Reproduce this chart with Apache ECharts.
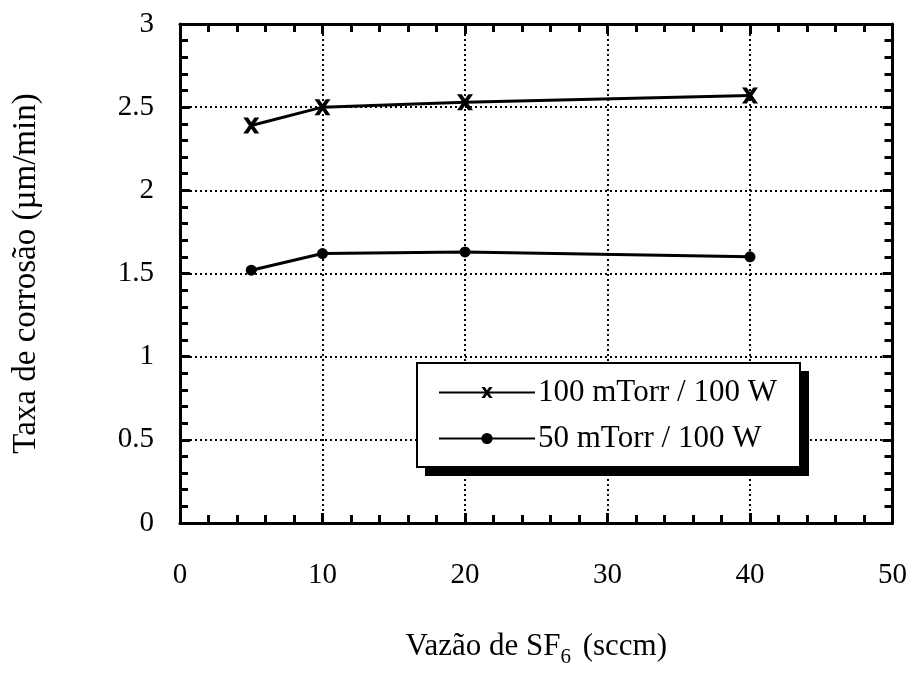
<!DOCTYPE html>
<html><head><meta charset="utf-8">
<script src="https://cdn.jsdelivr.net/npm/echarts@6/dist/echarts.min.js"></script>
<style>html,body{margin:0;padding:0;background:#fff}#c{width:910px;height:673px}</style>
</head><body><div id="c"></div>
<script>
const xValues = [5, 10, 20, 40];
const series100 = [2.39, 2.50, 2.53, 2.57];
const series50 = [1.52, 1.62, 1.63, 1.60];
const seriesNames = ['100 mTorr / 100 W', '50 mTorr / 100 W'];
const xName = 'Vazão de SF';
const yName = 'Taxa de corrosão (µm/min)';

const FONT = '"Liberation Serif", "DejaVu Serif", serif';
const crossPath = 'path://M0,0 L3,0 L5,3 L7,0 L10,0 L6.5,5 L10,10 L7,10 L5,7 L3,10 L0,10 L3.5,5 Z';
const chart = echarts.init(document.getElementById('c'), null, {renderer: 'canvas'});

function axisLine() { return {show: true, onZero: false, lineStyle: {color: '#000', width: 3}}; }
function tick() { return {show: true, inside: true, length: 10, lineStyle: {color: '#000', width: 3}}; }
function minor() { return {show: true, splitNumber: 5, length: 8, lineStyle: {color: '#000', width: 3}}; }
function grid() { return {show: true, lineStyle: {color: '#000', width: 2, type: [2, 3]}}; }

function pairs(ys) { return xValues.map((x, i) => [x, ys[i]]); }

chart.setOption({
  animation: false,
  backgroundColor: '#fff',
  grid: {left: 180, right: 15, top: 24, bottom: 140},
  graphic: [
    {type: 'rect', z: 5, shape: {x: 425, y: 371, width: 384, height: 105}, style: {fill: '#000'}},
    {type: 'rect', z: 6, shape: {x: 417, y: 363, width: 383, height: 104}, style: {fill: '#fff', stroke: '#000', lineWidth: 2}}
  ],
  legend: {
    z: 10,
    data: seriesNames,
    orient: 'vertical',
    left: 438, top: 377,
    padding: 0,
    itemGap: 15,
    itemWidth: 96, itemHeight: 14,
    textStyle: {fontFamily: FONT, fontSize: 31, color: '#000', padding: [0, 0, 0, -2]}
  },
  xAxis: [{
    type: 'value', min: 0, max: 50, interval: 10, position: 'bottom',
    axisLine: axisLine(), axisTick: tick(), minorTick: minor(), splitLine: grid(),
    axisLabel: {fontFamily: FONT, fontSize: 29, color: '#000', margin: 38},
    name: xName + '{sub|6} (sccm)',
    nameLocation: 'middle', nameGap: 102,
    nameTextStyle: {fontFamily: FONT, fontSize: 31, color: '#000',
      rich: {sub: {fontFamily: FONT, fontSize: 21, color: '#000', verticalAlign: 'bottom', padding: [22, 4, 0, 0]}}}
  }, {
    type: 'value', min: 0, max: 50, interval: 10, position: 'top',
    axisLine: axisLine(), axisTick: tick(), minorTick: minor(), splitLine: {show: false},
    axisLabel: {show: false}
  }],
  yAxis: [{
    type: 'value', min: 0, max: 3, interval: 0.5, position: 'left',
    axisLine: axisLine(), axisTick: tick(), minorTick: minor(), splitLine: grid(),
    axisLabel: {fontFamily: FONT, fontSize: 29, color: '#000', margin: 26},
    name: yName, nameLocation: 'middle', nameGap: 137, nameRotate: 90,
    nameTextStyle: {fontFamily: FONT, fontSize: 33, color: '#000'}
  }, {
    type: 'value', min: 0, max: 3, interval: 0.5, position: 'right',
    axisLine: axisLine(), axisTick: tick(), minorTick: minor(), splitLine: {show: false},
    axisLabel: {show: false}
  }],
  series: [{
    name: seriesNames[0], type: 'line', data: pairs(series100),
    symbol: crossPath, symbolSize: 16, z: 3,
    lineStyle: {color: '#000', width: 3}, itemStyle: {color: '#000'}
  }, {
    name: seriesNames[1], type: 'line', data: pairs(series50),
    symbol: 'circle', symbolSize: 11, z: 3,
    lineStyle: {color: '#000', width: 3}, itemStyle: {color: '#000'}
  }]
});
</script></body></html>
